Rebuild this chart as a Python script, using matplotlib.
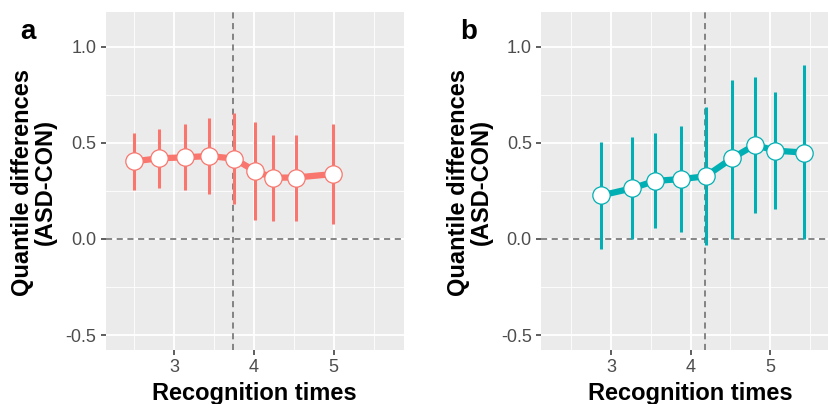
import numpy as np
import matplotlib.pyplot as plt
from matplotlib.ticker import MultipleLocator

plt.rcParams['font.family'] = ['Liberation Sans', 'DejaVu Sans']

# panel a: quantile differences (ASD - CON) with CIs
xa = [2.49, 2.81, 3.13, 3.44, 3.75, 4.01, 4.24, 4.53, 4.99]
ya = [0.404, 0.420, 0.425, 0.432, 0.418, 0.354, 0.319, 0.320, 0.338]
lo_a = [0.257, 0.267, 0.257, 0.236, 0.182, 0.100, 0.095, 0.095, 0.078]
hi_a = [0.552, 0.573, 0.599, 0.630, 0.658, 0.611, 0.543, 0.543, 0.601]
vline_a = 3.74

# panel b
xb = [2.88, 3.27, 3.55, 3.88, 4.19, 4.52, 4.81, 5.06, 5.42]
yb = [0.227, 0.264, 0.302, 0.312, 0.326, 0.420, 0.490, 0.460, 0.450]
lo_b = [-0.050, 0.000, 0.057, 0.036, -0.030, 0.000, 0.137, 0.156, 0.000]
hi_b = [0.507, 0.531, 0.552, 0.589, 0.688, 0.830, 0.845, 0.767, 0.906]
vline_b = 4.18

W, H = 829, 404
fig = plt.figure(figsize=(W / 100, H / 100), dpi=100)


def panel(left, x, y, lo, hi, vline, color, xlim, letter, letter_x, ylab_x):
    # axes is 298 px wide; panel b runs past the right edge (cropped like the original)
    ax = fig.add_axes([left / W, 54 / H, 298.3 / W, 337.7 / H])
    ax.set_facecolor('#EBEBEB')
    for s in ax.spines.values():
        s.set_visible(False)
    ax.set_xlim(*xlim)
    ax.set_ylim(-0.578, 1.18)
    ax.xaxis.set_major_locator(MultipleLocator(1))
    ax.xaxis.set_minor_locator(MultipleLocator(0.5))
    ax.set_yticks([-0.5, 0.0, 0.5, 1.0])
    ax.set_yticklabels(['-0.5', '0.0', '0.5', '1.0'])
    ax.yaxis.set_minor_locator(MultipleLocator(0.25))
    ax.grid(which='major', color='white', lw=1.3)
    ax.grid(which='minor', color='white', lw=0.6)
    ax.set_axisbelow(True)
    ax.tick_params(which='major', length=3.6, width=1.1, color='#333333',
                   labelsize=13, labelcolor='#4D4D4D', pad=3)
    ax.tick_params(which='minor', length=0)

    ax.axhline(0, color='#666666', lw=1.1, ls=(0, (4, 3)), zorder=1)
    ax.axvline(vline, color='#666666', lw=1.1, ls=(0, (4, 3)), zorder=1)

    ax.plot(x, y, color=color, lw=4.5, zorder=2, solid_capstyle='butt')
    ax.vlines(x, lo, hi, color=color, lw=2.2, zorder=3)
    ax.plot(x, y, 'o', ms=12.5, mfc='white', mec=color, mew=0.9, zorder=4)

    fig.text((left + 149) / W, 1 - 400 / H, 'Recognition times', ha='center',
             va='baseline', fontsize=17, fontweight='bold')
    fig.text(ylab_x / W, 1 - 182 / H, 'Quantile differences\n(ASD-CON)',
             rotation=90, ha='center', va='center', multialignment='center',
             fontsize=17, fontweight='bold', linespacing=1.0)
    fig.text(letter_x / W, 1 - 32 / H, letter, fontsize=20, fontweight='bold',
             ha='left', va='center')
    return ax


panel(105.7, xa, ya, lo_a, hi_a, vline_a, '#F8766D', (2.14, 5.88), 'a', 20, 34)
panel(541, xb, yb, lo_b, hi_b, vline_b, '#00AFB3', (2.12, 5.87), 'b', 460, 470)

fig.savefig('out.png', dpi=100)
